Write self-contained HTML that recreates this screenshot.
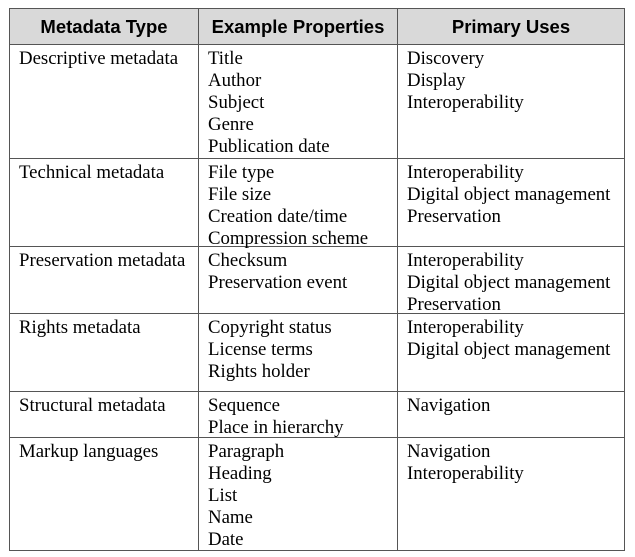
<!DOCTYPE html>
<html><head><style>
body{margin:0;background:#fff;width:635px;height:557px;overflow:hidden}
table{position:absolute;left:9px;top:8px;border-collapse:collapse;font-family:"Liberation Serif",serif;font-size:18.8px;line-height:22px;color:#000}
td,th{border:1.5px solid #555;vertical-align:top;padding:0 9px 0 9px;white-space:nowrap}
td div{position:relative;top:3px;margin-bottom:-3px}
th{background:#d9d9d9;font-family:"Liberation Sans",sans-serif;font-weight:bold;font-size:18.5px;text-align:center;height:35px;padding:0;vertical-align:middle}
</style></head><body>
<table>
<colgroup><col style="width:189px"><col style="width:199px"><col style="width:227px"></colgroup>
<tr><th>Metadata Type</th><th>Example Properties</th><th>Primary Uses</th></tr>
<tr style="height:114px"><td><div>Descriptive metadata</div></td><td><div>Title<br>Author<br>Subject<br>Genre<br>Publication date</div></td><td><div>Discovery<br>Display<br>Interoperability</div></td></tr>
<tr style="height:88px"><td><div>Technical metadata</div></td><td><div>File type<br>File size<br>Creation date/time<br>Compression scheme</div></td><td><div>Interoperability<br>Digital object management<br>Preservation</div></td></tr>
<tr style="height:67px"><td><div>Preservation metadata</div></td><td><div>Checksum<br>Preservation event</div></td><td><div>Interoperability<br>Digital object management<br>Preservation</div></td></tr>
<tr style="height:78px"><td><div>Rights metadata</div></td><td><div>Copyright status<br>License terms<br>Rights holder</div></td><td><div>Interoperability<br>Digital object management</div></td></tr>
<tr style="height:46px"><td><div>Structural metadata</div></td><td><div>Sequence<br>Place in hierarchy</div></td><td><div>Navigation</div></td></tr>
<tr style="height:113px"><td><div>Markup languages</div></td><td><div>Paragraph<br>Heading<br>List<br>Name<br>Date</div></td><td><div>Navigation<br>Interoperability</div></td></tr>
</table>
</body></html>
